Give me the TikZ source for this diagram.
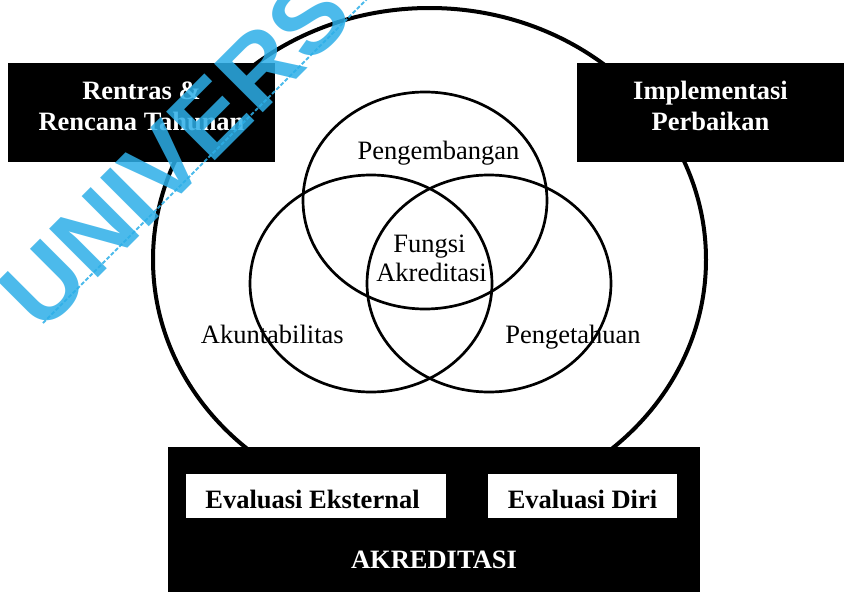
\documentclass[tikz,border=0pt]{standalone}
\usepackage{fontspec}
\setmainfont{Liberation Serif}
\newfontfamily\wmfont{Liberation Sans}
\definecolor{wm}{RGB}{45,175,232}
\tikzset{
  bigring/.style={line width=4pt},
  venn/.style={line width=2.7pt},
  blackbox/.style={fill=black, draw=none, inner sep=0pt},
  whitebox/.style={fill=white, draw=none, inner sep=0pt},
  lbl/.style={anchor=base, inner sep=0pt, font=\fontsize{26.5}{30}\selectfont},
  wlbl/.style={anchor=base, inner sep=0pt, text=white, font=\fontsize{26.5}{30}\selectfont\bfseries},
  blbl/.style={anchor=base, inner sep=0pt, font=\fontsize{26.5}{30}\selectfont\bfseries},
  wmtext/.style={anchor=base west, inner sep=0pt, outer sep=0pt, rotate=45, text=wm, opacity=0.85, font=\wmfont\bfseries\fontsize{100}{100}\selectfont},
  wmline/.style={draw=wm, opacity=0.85, line width=2pt, dash pattern=on 4pt off 2pt}
}
\begin{document}
\begin{tikzpicture}[x=1pt,y=-1pt]
\useasboundingbox (0,0) rectangle (847,592);
\clip (0,0) rectangle (847,592);
\fill[white] (0,0) rectangle (847,592);
% outer ring
\draw[bigring] (429.5,259.6) ellipse [x radius=276.5pt, y radius=251.6pt];
% venn
\draw[venn] (425,200.5) ellipse [x radius=122pt, y radius=108.5pt];
\draw[venn] (371,283.5) ellipse [x radius=121pt, y radius=108.5pt];
\draw[venn] (489,283.5) ellipse [x radius=122pt, y radius=108.5pt];
% venn labels
\node[lbl] (peng) at (438.5,159.5) {Pengembangan};
\node[lbl] (fungsi) at (429.5,252) {Fungsi};
\node[lbl] (akred) at (431.5,281.7) {Akreditasi};
\node[lbl] (akun) at (272.3,343.3) {Akuntabilitas};
\node[lbl] (penget) at (573,343.3) {Pengetahuan};
% top boxes
\node[blackbox, minimum width=267pt, minimum height=99pt] (rentrasbox) at (141.5,112.5) {};
\node[wlbl] (rentras1) at (141.5,99) {Rentras \&};
\node[wlbl] (rentras2) at (141.5,130.7) {Rencana Tahunan};
\node[blackbox, minimum width=267pt, minimum height=99pt] (implbox) at (710.5,112.5) {};
\node[wlbl] (impl1) at (710.5,99.3) {Implementasi};
\node[wlbl] (impl2) at (710.5,130.7) {Perbaikan};
% bottom box
\node[blackbox, minimum width=532pt, minimum height=146pt] (akrbox) at (434,520) {};
\node[whitebox, minimum width=260pt, minimum height=44pt] (ekstbox) at (316,496) {};
\node[whitebox, minimum width=189pt, minimum height=44pt] (diribox) at (582.5,496) {};
\node[blbl] (ekst) at (312.5,508.3) {Evaluasi Eksternal};
\node[blbl] (diri) at (582.5,508.3) {Evaluasi Diri};
\node[wlbl] (akr) at (434,568.3) {AKREDITASI};
% watermark
\coordinate (wma) at (43,323);
\coordinate (wmb) at (372,-6);
\draw[wmline] (wma) -- (wmb);
\node[wmtext] (wm) at (42,334) {UNIVERS};
\end{tikzpicture}
\end{document}
